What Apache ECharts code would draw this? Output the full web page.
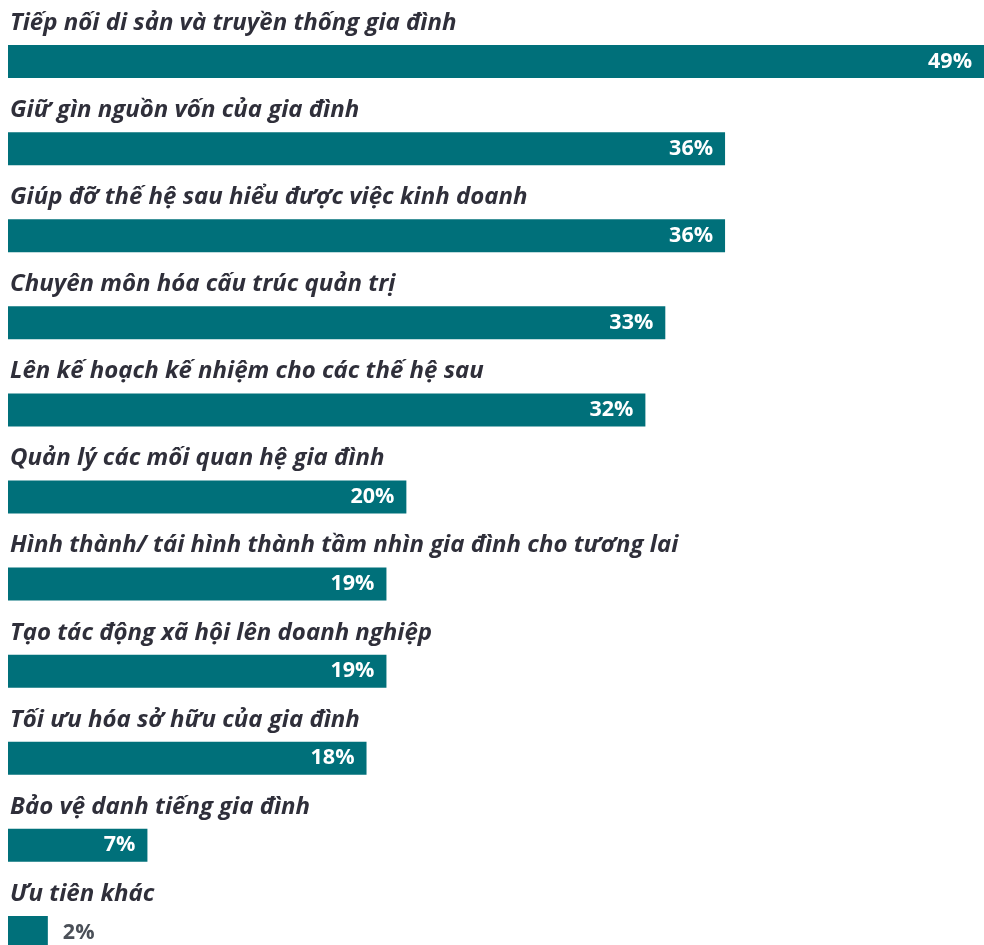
<!DOCTYPE html>
<html>
<head>
<meta charset="utf-8">
<script src="https://cdn.jsdelivr.net/npm/echarts@6/dist/echarts.min.js"></script>
<style>
html,body{margin:0;padding:0;background:#fff;overflow:hidden;}
#chart{width:984px;height:976px;}
</style>
</head>
<body>
<div id="chart"></div>
<script>
var categories = [
  "Tiếp nối di sản và truyền thống gia đình",
  "Giữ gìn nguồn vốn của gia đình",
  "Giúp đỡ thế hệ sau hiểu được việc kinh doanh",
  "Chuyên môn hóa cấu trúc quản trị",
  "Lên kế hoạch kế nhiệm cho các thế hệ sau",
  "Quản lý các mối quan hệ gia đình",
  "Hình thành/ tái hình thành tầm nhìn gia đình cho tương lai",
  "Tạo tác động xã hội lên doanh nghiệp",
  "Tối ưu hóa sở hữu của gia đình",
  "Bảo vệ danh tiếng gia đình",
  "Ưu tiên khác"
];
var values = [49, 36, 36, 33, 32, 20, 19, 19, 18, 7, 2];

var chart = echarts.init(document.getElementById('chart'));
var barData = values.map(function (v) {
  if (v < 5) {
    return {value: v, label: {position: 'right', distance: 15, color: '#4b5058'}};
  }
  return v;
});
chart.setOption({
  animation: false,
  grid: {left: 8, right: 0, top: 18, bottom: 0, containLabel: false},
  xAxis: {type: 'value', min: 0, max: 49, show: false},
  yAxis: {
    type: 'category', data: categories, inverse: true,
    axisLine: {show: false}, axisTick: {show: false}, axisLabel: {show: false}, splitLine: {show: false}
  },
  series: [
    {
      type: 'bar', data: barData, barWidth: 33,
      itemStyle: {color: '#00707a'},
      label: {
        show: true, position: 'insideRight', distance: 12,
        formatter: '{c}%', color: '#ffffff',
        fontFamily: 'Open Sans', fontWeight: 'bold', fontSize: 21.5
      }
    },
    {
      type: 'bar', data: values, barWidth: 33, barGap: '-100%',
      itemStyle: {color: 'rgba(0,0,0,0)'}, silent: true,
      label: {
        show: true, position: [2, -22], align: 'left', verticalAlign: 'middle',
        formatter: function (p) { return p.name; },
        color: '#2f2f3a', fontFamily: 'Open Sans', fontWeight: 'bold', fontStyle: 'italic', fontSize: 24
      }
    }
  ]
});
</script>
</body>
</html>
